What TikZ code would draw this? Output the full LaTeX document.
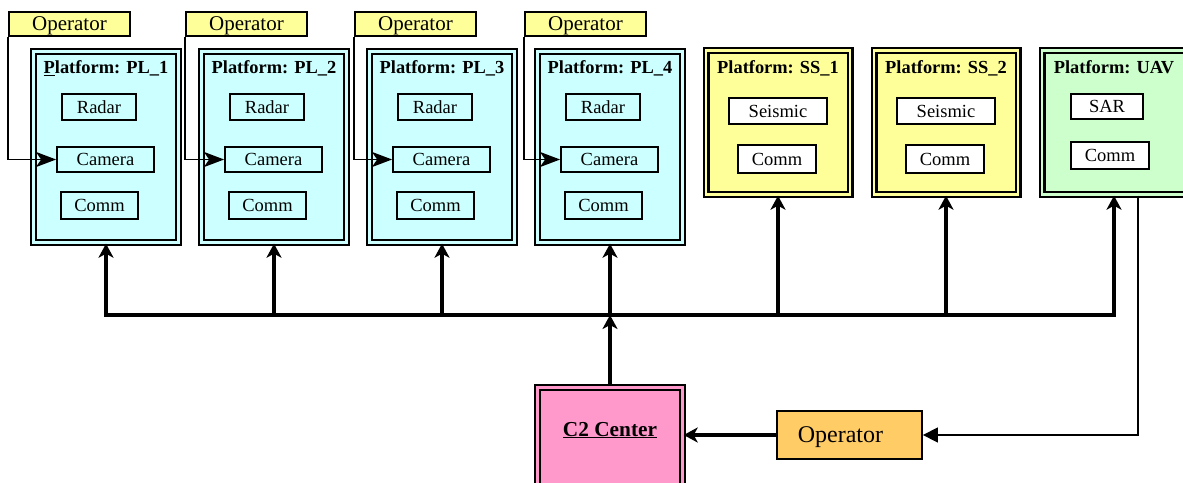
\documentclass[tikz,border=0pt]{standalone}
\usepackage{fontspec}
\setmainfont{Liberation Serif}
\usetikzlibrary{arrows.meta}
\definecolor{plcyan}{HTML}{CCFFFF}
\definecolor{ssyellow}{HTML}{FFFF99}
\definecolor{uavgreen}{HTML}{CCFFCC}
\definecolor{c2pink}{HTML}{FF99CC}
\definecolor{oporange}{HTML}{FFCC66}
\tikzset{
  plat/.style={draw, line width=2.4pt, double distance=2.2pt, inner sep=0pt},
  pltitle/.style={anchor=base, font=\fontsize{18.4}{20}\selectfont\bfseries, inner sep=0pt},
  ibox/.style={draw, line width=1.8pt, inner sep=0pt, font=\fontsize{18.5}{20}\selectfont, text height=12.2pt, text depth=0pt},
  topop/.style={draw, line width=1.5pt, fill=ssyellow, inner sep=0pt, minimum width=121pt, minimum height=24pt, font=\fontsize{21}{23}\selectfont, text height=13.9pt, text depth=0pt},
  busline/.style={line width=4pt, line join=miter},
  bustip/.style={-{Stealth[length=14pt,width=15pt,inset=4pt]}},
  camarrow/.style={line width=1.6pt, -{Stealth[length=20pt,width=15pt,inset=5pt]}},
  c2arrow/.style={line width=3.5pt, -{Stealth[length=14pt,width=15pt,inset=4pt]}},
  uavarrow/.style={line width=1.5pt, -{Triangle[length=15pt,width=15pt]}}
}
\begin{document}
\begin{tikzpicture}[x=1pt,y=-1pt]
\useasboundingbox (0,0) rectangle (1183,482);
\clip (0,0) rectangle (1183,482);
% PL platforms
\foreach \i/\x/\ox in {1/106/69.5,2/274/246.5,3/442/415.5,4/610/585.5}{
  \node[plat, fill=plcyan, double=plcyan, minimum width=145pt, minimum height=191pt] (pl\i) at (\x,147) {};
  \node[ibox, minimum width=74pt, minimum height=26pt] (radar\i) at (\x-7,107) {Radar};
  \node[ibox, minimum width=97pt, minimum height=25pt] (cam\i) at (\x-0.5,159.5) {Camera};
  \node[ibox, minimum width=77pt, minimum height=27pt] (comm\i) at (\x-6.5,205.5) {Comm};
  \node[topop] (op\i) at (\ox,24) {Operator};
  \draw[camarrow] (op\i.south west) |- (cam\i.west);
}
\node[pltitle] (t1) at (106,73.5) {\underline{P}latform: PL\_1};
\node[pltitle] (t2) at (274,73.5) {Platform: PL\_2};
\node[pltitle] (t3) at (442,73.5) {Platform: PL\_3};
\node[pltitle] (t4) at (610,73.5) {Platform: PL\_4};
% SS platforms
\foreach \i/\x in {1/778,2/946}{
  \node[plat, fill=ssyellow, double=ssyellow, minimum width=144pt, minimum height=144pt] (ss\i) at (\x,122.5) {};
  \node[pltitle] (st\i) at (\x,73.5) {Platform: SS\_\i};
  \node[ibox, fill=white, minimum width=98pt, minimum height=26pt] (seis\i) at (\x,111) {Seismic};
  \node[ibox, fill=white, minimum width=78pt, minimum height=28pt] (sscomm\i) at (\x-1,159) {Comm};
}
% UAV
\node[plat, fill=uavgreen, double=uavgreen, minimum width=144pt, minimum height=144pt] (uav) at (1114,122.5) {};
\node[pltitle] (ut) at (1114,73.5) {Platform: UAV};
\node[ibox, fill=white, minimum width=72pt, minimum height=25pt] (sar) at (1107,106.5) {SAR};
\node[ibox, fill=white, minimum width=78pt, minimum height=27pt] (uavcomm) at (1110,155.5) {Comm};
% C2 center
\node[plat, fill=c2pink, double=c2pink, minimum width=145pt, minimum height=143pt] (c2) at (610,459) {};
\node[anchor=base, inner sep=0pt, font=\fontsize{21.3}{23}\selectfont\bfseries] (c2t) at (610,436) {\underline{C2 Center}};
% bottom operator
\node[draw, line width=1.8pt, fill=oporange, minimum width=145pt, minimum height=48pt, inner sep=0pt] (op) at (849.5,435) {};
\node[anchor=base, inner sep=0pt, font=\fontsize{24}{26}\selectfont] (opt) at (840.5,442.7) {Operator};
% bus
\coordinate (bus) at (0,315);
\draw[busline, {Stealth[length=14pt,width=15pt,inset=4pt]}-{Stealth[length=14pt,width=15pt,inset=4pt]}] (pl1.south) -- (pl1.south |- bus) -- (uav.south |- bus) -- (uav.south);
\foreach \n in {pl2,pl3,pl4,ss1,ss2}{
  \draw[busline, bustip] (\n.south |- bus) -- (\n.south);
}
\draw[busline, bustip] (c2.north) -- (c2.north |- bus);
% operator to C2
\draw[c2arrow] (op.west) -- (op.west -| c2.east);
% UAV to operator
\draw[uavarrow] ([xshift=24pt]uav.south) |- (op.east);
\end{tikzpicture}
\end{document}
